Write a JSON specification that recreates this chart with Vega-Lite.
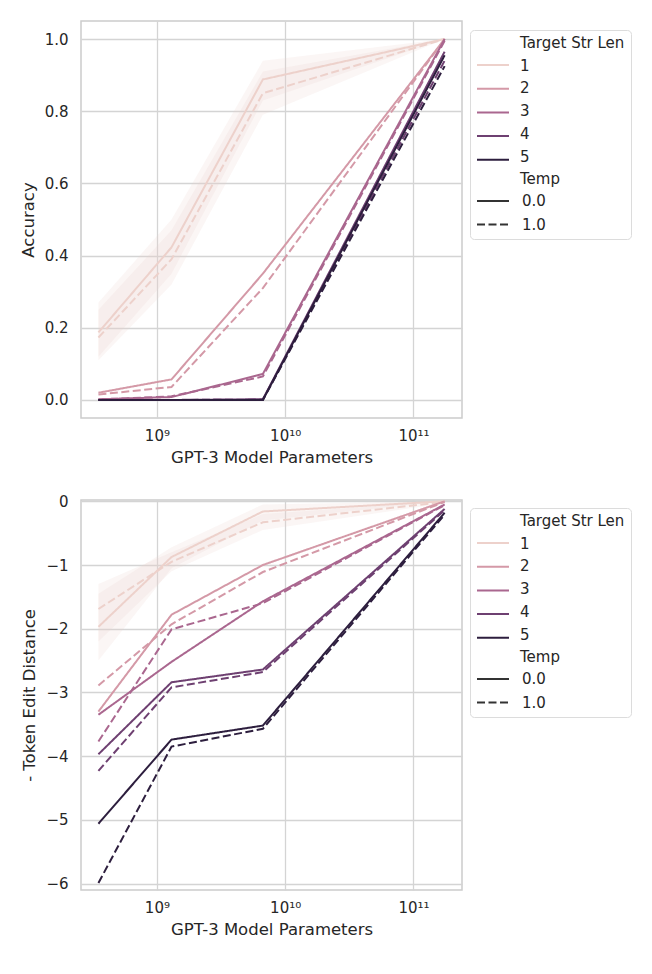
{
  "$schema": "https://vega.github.io/schema/vega-lite/v6.json",
  "padding": {"left": 19, "top": 20, "right": 5, "bottom": 5},
  "background": "white",
  "data": {"values": [
    {"p":"acc","len":1,"temp":"0.0","params":3.5e8,"v":0.187,"lo":0.12,"hi":0.27},
    {"p":"acc","len":1,"temp":"0.0","params":1.3e9,"v":0.423,"lo":0.35,"hi":0.50},
    {"p":"acc","len":1,"temp":"0.0","params":6.7e9,"v":0.888,"lo":0.83,"hi":0.94},
    {"p":"acc","len":1,"temp":"0.0","params":1.75e11,"v":1.0,"lo":1.0,"hi":1.0},
    {"p":"acc","len":1,"temp":"1.0","params":3.5e8,"v":0.173,"lo":0.11,"hi":0.25},
    {"p":"acc","len":1,"temp":"1.0","params":1.3e9,"v":0.39,"lo":0.32,"hi":0.47},
    {"p":"acc","len":1,"temp":"1.0","params":6.7e9,"v":0.85,"lo":0.79,"hi":0.91},
    {"p":"acc","len":1,"temp":"1.0","params":1.75e11,"v":1.0,"lo":1.0,"hi":1.0},
    {"p":"acc","len":2,"temp":"0.0","params":3.5e8,"v":0.02},
    {"p":"acc","len":2,"temp":"0.0","params":1.3e9,"v":0.057},
    {"p":"acc","len":2,"temp":"0.0","params":6.7e9,"v":0.35},
    {"p":"acc","len":2,"temp":"0.0","params":1.75e11,"v":1.0},
    {"p":"acc","len":2,"temp":"1.0","params":3.5e8,"v":0.015},
    {"p":"acc","len":2,"temp":"1.0","params":1.3e9,"v":0.036},
    {"p":"acc","len":2,"temp":"1.0","params":6.7e9,"v":0.31},
    {"p":"acc","len":2,"temp":"1.0","params":1.75e11,"v":1.0},
    {"p":"acc","len":3,"temp":"0.0","params":3.5e8,"v":0.002},
    {"p":"acc","len":3,"temp":"0.0","params":1.3e9,"v":0.008},
    {"p":"acc","len":3,"temp":"0.0","params":6.7e9,"v":0.072},
    {"p":"acc","len":3,"temp":"0.0","params":1.75e11,"v":1.0},
    {"p":"acc","len":3,"temp":"1.0","params":3.5e8,"v":0.001},
    {"p":"acc","len":3,"temp":"1.0","params":1.3e9,"v":0.01},
    {"p":"acc","len":3,"temp":"1.0","params":6.7e9,"v":0.065},
    {"p":"acc","len":3,"temp":"1.0","params":1.75e11,"v":0.995},
    {"p":"acc","len":4,"temp":"0.0","params":3.5e8,"v":0.0},
    {"p":"acc","len":4,"temp":"0.0","params":1.3e9,"v":0.0},
    {"p":"acc","len":4,"temp":"0.0","params":6.7e9,"v":0.002},
    {"p":"acc","len":4,"temp":"0.0","params":1.75e11,"v":0.965},
    {"p":"acc","len":4,"temp":"1.0","params":3.5e8,"v":0.0},
    {"p":"acc","len":4,"temp":"1.0","params":1.3e9,"v":0.0},
    {"p":"acc","len":4,"temp":"1.0","params":6.7e9,"v":0.001},
    {"p":"acc","len":4,"temp":"1.0","params":1.75e11,"v":0.94},
    {"p":"acc","len":5,"temp":"0.0","params":3.5e8,"v":0.0},
    {"p":"acc","len":5,"temp":"0.0","params":1.3e9,"v":0.0},
    {"p":"acc","len":5,"temp":"0.0","params":6.7e9,"v":0.0},
    {"p":"acc","len":5,"temp":"0.0","params":1.75e11,"v":0.955},
    {"p":"acc","len":5,"temp":"1.0","params":3.5e8,"v":0.0},
    {"p":"acc","len":5,"temp":"1.0","params":1.3e9,"v":0.0},
    {"p":"acc","len":5,"temp":"1.0","params":6.7e9,"v":0.0},
    {"p":"acc","len":5,"temp":"1.0","params":1.75e11,"v":0.925},
    {"p":"ted","len":1,"temp":"0.0","params":3.5e8,"v":-1.97,"lo":-2.5,"hi":-1.45},
    {"p":"ted","len":1,"temp":"0.0","params":1.3e9,"v":-0.875,"lo":-1.05,"hi":-0.72},
    {"p":"ted","len":1,"temp":"0.0","params":6.7e9,"v":-0.16,"lo":-0.3,"hi":-0.05},
    {"p":"ted","len":1,"temp":"0.0","params":1.75e11,"v":0.0,"lo":0.0,"hi":0.0},
    {"p":"ted","len":1,"temp":"1.0","params":3.5e8,"v":-1.69,"lo":-2.2,"hi":-1.3},
    {"p":"ted","len":1,"temp":"1.0","params":1.3e9,"v":-0.95,"lo":-1.1,"hi":-0.8},
    {"p":"ted","len":1,"temp":"1.0","params":6.7e9,"v":-0.33,"lo":-0.45,"hi":-0.2},
    {"p":"ted","len":1,"temp":"1.0","params":1.75e11,"v":-0.01,"lo":-0.03,"hi":0.0},
    {"p":"ted","len":2,"temp":"0.0","params":3.5e8,"v":-3.3},
    {"p":"ted","len":2,"temp":"0.0","params":1.3e9,"v":-1.78},
    {"p":"ted","len":2,"temp":"0.0","params":6.7e9,"v":-1.0},
    {"p":"ted","len":2,"temp":"0.0","params":1.75e11,"v":0.0},
    {"p":"ted","len":2,"temp":"1.0","params":3.5e8,"v":-2.89},
    {"p":"ted","len":2,"temp":"1.0","params":1.3e9,"v":-1.93},
    {"p":"ted","len":2,"temp":"1.0","params":6.7e9,"v":-1.11},
    {"p":"ted","len":2,"temp":"1.0","params":1.75e11,"v":-0.01},
    {"p":"ted","len":3,"temp":"0.0","params":3.5e8,"v":-3.35},
    {"p":"ted","len":3,"temp":"0.0","params":1.3e9,"v":-2.52},
    {"p":"ted","len":3,"temp":"0.0","params":6.7e9,"v":-1.57},
    {"p":"ted","len":3,"temp":"0.0","params":1.75e11,"v":-0.05},
    {"p":"ted","len":3,"temp":"1.0","params":3.5e8,"v":-3.77},
    {"p":"ted","len":3,"temp":"1.0","params":1.3e9,"v":-2.01},
    {"p":"ted","len":3,"temp":"1.0","params":6.7e9,"v":-1.6},
    {"p":"ted","len":3,"temp":"1.0","params":1.75e11,"v":-0.06},
    {"p":"ted","len":4,"temp":"0.0","params":3.5e8,"v":-3.97},
    {"p":"ted","len":4,"temp":"0.0","params":1.3e9,"v":-2.84},
    {"p":"ted","len":4,"temp":"0.0","params":6.7e9,"v":-2.64},
    {"p":"ted","len":4,"temp":"0.0","params":1.75e11,"v":-0.12},
    {"p":"ted","len":4,"temp":"1.0","params":3.5e8,"v":-4.23},
    {"p":"ted","len":4,"temp":"1.0","params":1.3e9,"v":-2.92},
    {"p":"ted","len":4,"temp":"1.0","params":6.7e9,"v":-2.68},
    {"p":"ted","len":4,"temp":"1.0","params":1.75e11,"v":-0.14},
    {"p":"ted","len":5,"temp":"0.0","params":3.5e8,"v":-5.06},
    {"p":"ted","len":5,"temp":"0.0","params":1.3e9,"v":-3.74},
    {"p":"ted","len":5,"temp":"0.0","params":6.7e9,"v":-3.52},
    {"p":"ted","len":5,"temp":"0.0","params":1.75e11,"v":-0.18},
    {"p":"ted","len":5,"temp":"1.0","params":3.5e8,"v":-5.99},
    {"p":"ted","len":5,"temp":"1.0","params":1.3e9,"v":-3.85},
    {"p":"ted","len":5,"temp":"1.0","params":6.7e9,"v":-3.57},
    {"p":"ted","len":5,"temp":"1.0","params":1.75e11,"v":-0.21}
  ]},
  "spacing": 26,
  "resolve": {"scale": {"color": "independent", "strokeDash": "independent", "fill": "independent", "y": "independent"}},
  "vconcat": [
    {
      "width": 381, "height": 397,
      "transform": [{"filter": "datum.p == 'acc'"}],
      "encoding": {
        "x": {"field": "params", "type": "quantitative",
              "scale": {"type": "log", "domain": [2.56e8, 2.39e11], "nice": false},
              "axis": {"values": [1e9, 1e10, 1e11], "title": "GPT-3 Model Parameters",
                       "labelExpr": "datum.value < 5e9 ? '10⁹' : datum.value < 5e10 ? '10¹⁰' : '10¹¹'"}}
      },
      "layer": [
        {
          "transform": [{"filter": "isValid(datum.lo)"}],
          "mark": {"type": "area", "opacity": 0.2},
          "encoding": {
            "y": {"field": "lo", "type": "quantitative", "scale": {"domain": [-0.05, 1.05], "nice": false, "zero": false},
                  "axis": {"title": "Accuracy", "values": [0, 0.2, 0.4, 0.6, 0.8, 1.0], "format": ".1f"}},
            "y2": {"field": "hi"},
            "fill": {"field": "len", "type": "nominal", "legend": null,
                     "scale": {"range": ["#edd1cb", "#d499a7", "#aa678f", "#6e4071", "#2d1e3e"]}},
            "detail": {"field": "temp"}
          }
        },
        {
          "mark": {"type": "line", "strokeWidth": 2},
          "encoding": {
            "y": {"field": "v", "type": "quantitative", "scale": {"domain": [-0.05, 1.05], "nice": false, "zero": false},
                  "axis": {"title": "Accuracy", "values": [0, 0.2, 0.4, 0.6, 0.8, 1.0], "format": ".1f"}},
            "color": {"field": "len", "type": "nominal",
                      "scale": {"range": ["#edd1cb", "#d499a7", "#aa678f", "#6e4071", "#2d1e3e"]},
                      "legend": {"title": null, "labelExpr": "''", "orient": "none", "legendX": 389, "legendY": 30.5}},
            "strokeDash": {"field": "temp", "type": "nominal",
                           "scale": {"range": [[1, 0], [8, 3.5]]},
                           "legend": {"title": ["Target Str Len", "1", "2", "3", "4", "5", "Temp"],
                                      "titleLineHeight": 22.7, "orient": "none", "legendX": 389, "legendY": 9,
                                      "strokeColor": "#dcdcdc", "cornerRadius": 4, "symbolStrokeColor": "#333333",
                                      "encode": {"title": {"update": {"dx": {"value": 44}}}}}}
          }
        }
      ]
    },
    {
      "width": 381, "height": 390,
      "transform": [{"filter": "datum.p == 'ted'"}],
      "encoding": {
        "x": {"field": "params", "type": "quantitative",
              "scale": {"type": "log", "domain": [2.56e8, 2.39e11], "nice": false},
              "axis": {"values": [1e9, 1e10, 1e11], "title": "GPT-3 Model Parameters",
                       "labelExpr": "datum.value < 5e9 ? '10⁹' : datum.value < 5e10 ? '10¹⁰' : '10¹¹'"}}
      },
      "layer": [
        {
          "transform": [{"filter": "isValid(datum.lo)"}],
          "mark": {"type": "area", "opacity": 0.2},
          "encoding": {
            "y": {"field": "lo", "type": "quantitative", "scale": {"domain": [-6.1, 0.02], "nice": false, "zero": false},
                  "axis": {"title": "- Token Edit Distance", "values": [-6, -5, -4, -3, -2, -1, 0], "format": "d"}},
            "y2": {"field": "hi"},
            "fill": {"field": "len", "type": "nominal", "legend": null,
                     "scale": {"range": ["#edd1cb", "#d499a7", "#aa678f", "#6e4071", "#2d1e3e"]}},
            "detail": {"field": "temp"}
          }
        },
        {
          "mark": {"type": "line", "strokeWidth": 2},
          "encoding": {
            "y": {"field": "v", "type": "quantitative", "scale": {"domain": [-6.1, 0.02], "nice": false, "zero": false},
                  "axis": {"title": "- Token Edit Distance", "values": [-6, -5, -4, -3, -2, -1, 0], "format": "d"}},
            "color": {"field": "len", "type": "nominal",
                      "scale": {"range": ["#edd1cb", "#d499a7", "#aa678f", "#6e4071", "#2d1e3e"]},
                      "legend": {"title": null, "labelExpr": "''", "orient": "none", "legendX": 389, "legendY": 29.5}},
            "strokeDash": {"field": "temp", "type": "nominal",
                           "scale": {"range": [[1, 0], [8, 3.5]]},
                           "legend": {"title": ["Target Str Len", "1", "2", "3", "4", "5", "Temp"],
                                      "titleLineHeight": 22.7, "orient": "none", "legendX": 389, "legendY": 8,
                                      "strokeColor": "#dcdcdc", "cornerRadius": 4, "symbolStrokeColor": "#333333",
                                      "encode": {"title": {"update": {"dx": {"value": 44}}}}}}
          }
        }
      ]
    }
  ],
  "config": {
    "font": "DejaVu Sans",
    "view": {"stroke": "#cccccc", "strokeWidth": 1.5},
    "axis": {
      "domain": false, "ticks": false, "grid": true, "gridColor": "#d4d4d4", "gridWidth": 1.3,
      "labelFontSize": 15, "labelColor": "#262626", "titleFontSize": 16.5, "titleColor": "#262626",
      "titleFontWeight": "normal", "labelPadding": 12
    },
    "axisY": {"titlePadding": 8, "labelPadding": 13},
    "axisX": {"titlePadding": 6, "labelPadding": 10},
    "legend": {
      "labelFontSize": 15, "titleFontSize": 15, "titleFontWeight": "normal", "labelColor": "#262626", "titleColor": "#262626",
      "symbolType": "stroke", "symbolSize": 1024, "symbolStrokeWidth": 2, "clipHeight": 15, "rowPadding": 7.7,
      "titlePadding": 6.2, "labelOffset": 12, "padding": 6
    }
  }
}
